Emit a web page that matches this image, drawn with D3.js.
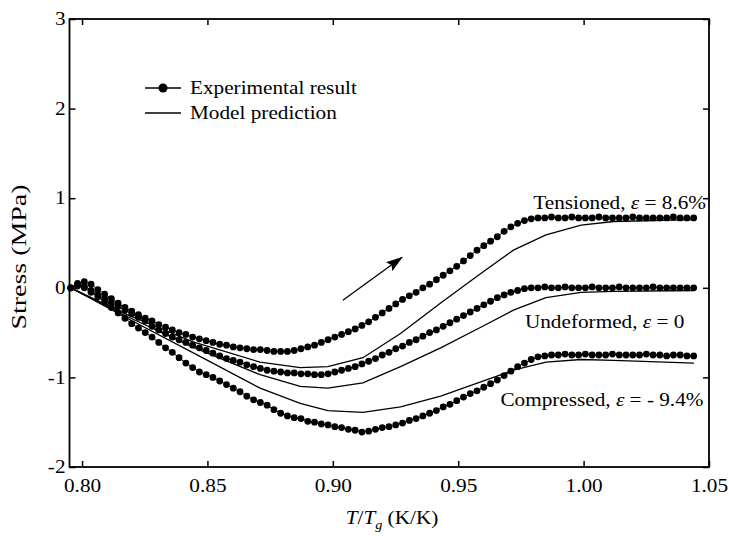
<!DOCTYPE html>
<html>
<head>
<meta charset="utf-8">
<script src="https://cdn.jsdelivr.net/npm/d3@7"></script>
<style>
  body { margin: 0; background: #fff; }
  text { font-family: "Liberation Serif", "Times New Roman", serif; fill: #000; }
</style>
</head>
<body>
<script>
// measured temperatures (T/Tg), shared by the three experimental runs
var temps = [
  0.7955, 0.7982, 0.8009, 0.8036, 0.8063, 0.8090, 0.8117, 0.8144, 0.8171, 0.8198,
  0.8225, 0.8252, 0.8279, 0.8306, 0.8333, 0.8360, 0.8387, 0.8414, 0.8441, 0.8468,
  0.8495, 0.8522, 0.8549, 0.8576, 0.8603, 0.8630, 0.8657, 0.8684, 0.8711, 0.8738,
  0.8765, 0.8792, 0.8819, 0.8846, 0.8873, 0.8900, 0.8927, 0.8954, 0.8981, 0.9008,
  0.9035, 0.9062, 0.9089, 0.9116, 0.9143, 0.9170, 0.9197, 0.9224, 0.9251, 0.9278,
  0.9305, 0.9332, 0.9359, 0.9386, 0.9413, 0.9440, 0.9467, 0.9494, 0.9521, 0.9548,
  0.9575, 0.9602, 0.9629, 0.9656, 0.9683, 0.9710, 0.9737, 0.9764, 0.9791, 0.9818,
  0.9845, 0.9872, 0.9899, 0.9926, 0.9953, 0.9980, 1.0007, 1.0034, 1.0061, 1.0088,
  1.0115, 1.0142, 1.0169, 1.0196, 1.0223, 1.0250, 1.0277, 1.0304, 1.0331, 1.0358,
  1.0385, 1.0412, 1.0439
];

var tensionedExp = [
  0.00, 0.05, 0.07, 0.04, -0.02, -0.07, -0.12, -0.17, -0.22, -0.26,
  -0.30, -0.34, -0.37, -0.41, -0.44, -0.47, -0.50, -0.52, -0.55, -0.57,
  -0.59, -0.61, -0.63, -0.64, -0.66, -0.67, -0.68, -0.69, -0.69, -0.70,
  -0.71, -0.71, -0.71, -0.70, -0.68, -0.66, -0.64, -0.61, -0.58, -0.55,
  -0.52, -0.49, -0.46, -0.42, -0.38, -0.33, -0.28, -0.23, -0.18, -0.13,
  -0.09, -0.05, 0.00, 0.04, 0.09, 0.14, 0.19, 0.24, 0.30, 0.36,
  0.42, 0.47, 0.52, 0.57, 0.63, 0.68, 0.72, 0.75, 0.77, 0.78,
  0.78, 0.79, 0.78, 0.78, 0.79, 0.78, 0.78, 0.78, 0.79, 0.78,
  0.78, 0.78, 0.78, 0.79, 0.78, 0.78, 0.78, 0.78, 0.78, 0.79,
  0.78, 0.78, 0.78
];

var undeformedExp = [
  0.00, 0.03, 0.02, -0.03, -0.08, -0.12, -0.17, -0.21, -0.25, -0.29,
  -0.33, -0.37, -0.43, -0.47, -0.51, -0.55, -0.58, -0.61, -0.64, -0.67,
  -0.70, -0.73, -0.76, -0.79, -0.81, -0.83, -0.86, -0.88, -0.90, -0.92,
  -0.93, -0.94, -0.95, -0.95, -0.96, -0.96, -0.97, -0.97, -0.96, -0.94,
  -0.92, -0.90, -0.88, -0.85, -0.82, -0.79, -0.75, -0.72, -0.68, -0.65,
  -0.61, -0.58, -0.54, -0.50, -0.47, -0.43, -0.39, -0.35, -0.31, -0.27,
  -0.23, -0.19, -0.15, -0.11, -0.08, -0.05, -0.03, -0.01, 0.00, 0.00,
  0.01, 0.00, 0.00, 0.01, 0.00, 0.00, 0.00, 0.01, 0.00, 0.00,
  0.00, 0.01, 0.00, 0.00, 0.00, 0.00, 0.01, 0.00, 0.00, 0.00,
  0.00, 0.00, 0.00
];

var compressedExp = [
  0.00, 0.02, 0.00, -0.05, -0.10, -0.16, -0.22, -0.28, -0.34, -0.40,
  -0.45, -0.50, -0.55, -0.61, -0.67, -0.72, -0.78, -0.84, -0.89, -0.94,
  -0.97, -1.00, -1.04, -1.08, -1.12, -1.16, -1.21, -1.25, -1.28, -1.31,
  -1.36, -1.40, -1.43, -1.45, -1.46, -1.49, -1.50, -1.52, -1.53, -1.55,
  -1.56, -1.58, -1.59, -1.61, -1.60, -1.58, -1.56, -1.55, -1.53, -1.51,
  -1.48, -1.46, -1.43, -1.40, -1.37, -1.33, -1.30, -1.26, -1.22, -1.18,
  -1.15, -1.11, -1.07, -1.03, -0.98, -0.93, -0.88, -0.84, -0.80, -0.77,
  -0.76, -0.75, -0.75, -0.74, -0.75, -0.75, -0.74, -0.75, -0.75, -0.75,
  -0.74, -0.75, -0.75, -0.75, -0.75, -0.74, -0.75, -0.75, -0.76, -0.75,
  -0.75, -0.76, -0.76
];

// model prediction curves
var modelTemps = [0.7955, 0.818, 0.844, 0.871, 0.887, 0.898, 0.912, 0.927, 0.943, 0.959, 0.972, 0.985, 0.999, 1.012, 1.044];
var tensionedModel  = [0, -0.30, -0.60, -0.83, -0.89, -0.88, -0.78, -0.51, -0.17, 0.16, 0.42, 0.59, 0.70, 0.74, 0.76];
var undeformedModel = [0, -0.32, -0.66, -0.97, -1.10, -1.12, -1.06, -0.88, -0.67, -0.44, -0.25, -0.11, -0.05, -0.04, -0.03];
var compressedModel = [0, -0.34, -0.72, -1.12, -1.29, -1.37, -1.39, -1.33, -1.21, -1.05, -0.92, -0.83, -0.80, -0.81, -0.84];

var xTicks = [0.80, 0.85, 0.90, 0.95, 1.00, 1.05];
var yTicks = [-2, -1, 0, 1, 2, 3];

var width = 729, height = 536;
var plotLeft = 69.5, plotRight = 709, plotTop = 19, plotBottom = 467;
var STRETCH = 1.18;

var xScale = d3.scaleLinear().domain([0.795, 1.05]).range([plotLeft, plotRight]);
var yScale = d3.scaleLinear().domain([-2, 3]).range([plotBottom, plotTop]);

var svg = d3.select("body").append("svg")
    .attr("width", width)
    .attr("height", height);

// the original figure's text is a bit wide, so stretch it horizontally
function stretch(sel) {
  sel.each(function() {
    var t = d3.select(this);
    var tx = +t.attr("x") || 0, ty = +t.attr("y") || 0;
    t.attr("x", null).attr("y", null)
     .attr("transform", "translate(" + tx + "," + ty + ") scale(" + STRETCH + ",1)");
  });
}

// axes, ticks pointing inward on all four sides
var gx = svg.append("g")
    .attr("transform", "translate(0," + plotBottom + ")")
    .call(d3.axisBottom(xScale).tickValues(xTicks).tickFormat(d3.format(".2f"))
      .tickSizeInner(-6).tickSizeOuter(0).tickPadding(12));
var gy = svg.append("g")
    .attr("transform", "translate(" + plotLeft + ",0)")
    .call(d3.axisLeft(yScale).tickValues(yTicks).tickFormat(function(d) { return String(d); })
      .tickSizeInner(-6).tickSizeOuter(0).tickPadding(4));
svg.append("g")
    .attr("transform", "translate(0," + plotTop + ")")
    .call(d3.axisTop(xScale).tickValues(xTicks).tickFormat("").tickSizeInner(-6).tickSizeOuter(0));
svg.append("g")
    .attr("transform", "translate(" + plotRight + ",0)")
    .call(d3.axisRight(yScale).tickValues(yTicks).tickFormat("").tickSizeInner(-6).tickSizeOuter(0));

svg.selectAll(".domain").remove();
svg.selectAll(".tick line").attr("stroke", "#000").attr("stroke-width", 1.5);
svg.selectAll(".tick text").attr("font-size", 18).attr("font-family", "Liberation Serif").attr("fill", "#000");
gx.selectAll(".tick text").call(stretch);
gy.selectAll(".tick text").call(stretch);

svg.append("rect")
    .attr("x", plotLeft).attr("y", plotTop)
    .attr("width", plotRight - plotLeft).attr("height", plotBottom - plotTop)
    .attr("fill", "none").attr("stroke", "#000").attr("stroke-width", 1.8);

// axis titles
svg.append("text")
    .attr("transform", "translate(26,257) rotate(-90) scale(1.27,1)")
    .attr("text-anchor", "middle")
    .attr("font-size", 22)
    .text("Stress (MPa)");

var xt = svg.append("text")
    .attr("transform", "translate(392,524) scale(" + STRETCH + ",1)")
    .attr("text-anchor", "middle")
    .attr("font-size", 18);
xt.append("tspan").attr("font-style", "italic").text("T");
xt.append("tspan").text("/");
xt.append("tspan").attr("font-style", "italic").text("T");
xt.append("tspan").attr("font-style", "italic").attr("font-size", 12).attr("dy", 5).text("g");
xt.append("tspan").attr("dy", -5).text(" (K/K)");

// model prediction lines
var modelLine = d3.line()
    .x(function(d, i) { return xScale(modelTemps[i]); })
    .y(function(d) { return yScale(d); });

[tensionedModel, undeformedModel, compressedModel].forEach(function(s) {
  svg.append("path")
      .attr("d", modelLine(s))
      .attr("fill", "none")
      .attr("stroke", "#000")
      .attr("stroke-width", 1.3);
});

// experimental results
var expLine = d3.line()
    .x(function(d, i) { return xScale(temps[i]); })
    .y(function(d) { return yScale(d); });

[tensionedExp, undeformedExp, compressedExp].forEach(function(s) {
  svg.append("path")
      .attr("d", expLine(s))
      .attr("fill", "none")
      .attr("stroke", "#000")
      .attr("stroke-width", 1);
  svg.append("g").selectAll("circle")
    .data(s)
    .enter().append("circle")
      .attr("cx", function(d, i) { return xScale(temps[i]); })
      .attr("cy", function(d) { return yScale(d); })
      .attr("r", 3.4)
      .attr("fill", "#000");
});

// curve labels
function label(xv, yv, parts, anchor) {
  var t = svg.append("text")
      .attr("transform", "translate(" + xScale(xv) + "," + yScale(yv) + ") scale(" + STRETCH + ",1)")
      .attr("text-anchor", anchor)
      .attr("font-size", 18);
  t.append("tspan").text(parts[0]);
  t.append("tspan").attr("font-style", "italic").text("\u03B5");
  t.append("tspan").text(parts[1]);
}
label(1.0488, 0.88, ["Tensioned, ", " = 8.6%"], "end");
label(0.9766, -0.45, ["Undeformed, ", " = 0"], "start");
label(1.0478, -1.32, ["Compressed, ", " = - 9.4%"], "end");

// heating direction arrow
svg.append("defs").append("marker")
    .attr("id", "head")
    .attr("markerUnits", "userSpaceOnUse")
    .attr("viewBox", "0 0 17 11")
    .attr("refX", 16).attr("refY", 5.5)
    .attr("markerWidth", 17).attr("markerHeight", 11)
    .attr("orient", "auto")
  .append("path")
    .attr("d", "M0,0 L17,5.5 L0,11 L3,5.5 Z")
    .attr("fill", "#000");

svg.append("line")
    .attr("x1", xScale(0.904)).attr("y1", yScale(-0.14))
    .attr("x2", xScale(0.9276)).attr("y2", yScale(0.34))
    .attr("stroke", "#000").attr("stroke-width", 1.3)
    .attr("marker-end", "url(#head)");

// legend
var legend = [
  { y: 88, text: "Experimental result", dot: true },
  { y: 113, text: "Model prediction", dot: false }
];
legend.forEach(function(d) {
  svg.append("line")
      .attr("x1", 145).attr("x2", 181).attr("y1", d.y).attr("y2", d.y)
      .attr("stroke", "#000").attr("stroke-width", 1.3);
  if (d.dot) {
    svg.append("circle").attr("cx", 163).attr("cy", d.y).attr("r", 4.5).attr("fill", "#000");
  }
  svg.append("text")
      .attr("transform", "translate(190," + (d.y + 6) + ") scale(" + STRETCH + ",1)")
      .attr("font-size", 18)
      .text(d.text);
});
</script>
</body>
</html>
